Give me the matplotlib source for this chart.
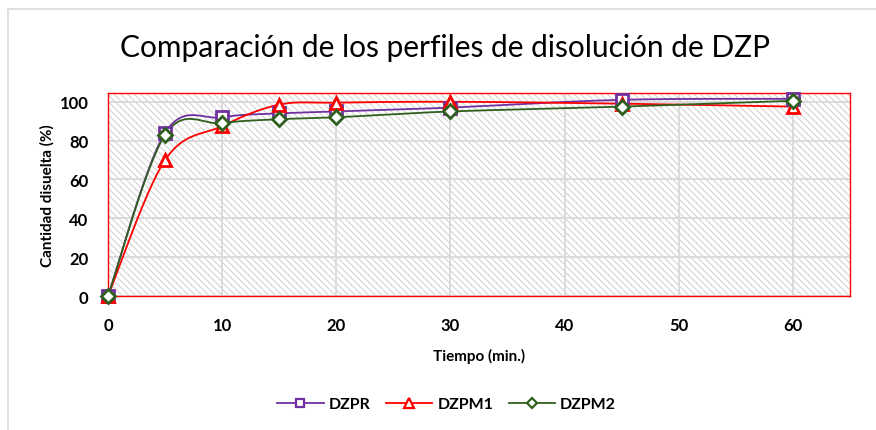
import numpy as np
import matplotlib
matplotlib.use('Agg')
import matplotlib.pyplot as plt
from matplotlib.patches import Rectangle
from matplotlib.lines import Line2D

plt.rcParams['font.family'] = ['Lato', 'DejaVu Sans']
plt.rcParams['hatch.color'] = '#cfcfcf'
plt.rcParams['hatch.linewidth'] = 0.7

# Data
tiempo = [0, 5, 10, 15, 20, 30, 45, 60]
dzpr = [0, 84, 92, 94, 95, 97, 101, 101.5]
dzpm1 = [0, 70, 87.5, 98.5, 99.5, 100, 99, 97.5]
dzpm2 = [0, 83, 89, 91, 92, 95, 97.5, 100.5]

# name, values, colour, marker, marker size
SERIES = [
    ('DZPR', dzpr, '#7030A0', 's', 8.5),
    ('DZPM1', dzpm1, '#FF0000', '^', 9),
    ('DZPM2', dzpm2, '#2F5F1F', 'D', 7),
]


def smooth(x, y, n=30):
    """Catmull-Rom style smoothing like Excel's smoothed line"""
    x = np.asarray(x, float)
    y = np.asarray(y, float)
    px = np.concatenate([[x[0]], x, [x[-1]]])
    py = np.concatenate([[y[0]], y, [y[-1]]])
    xs, ys = [], []
    t = np.linspace(0, 1, n)
    for i in range(1, len(px) - 2):
        p0, p1, p2, p3 = [np.array([px[j], py[j]]) for j in (i - 1, i, i + 1, i + 2)]
        c1 = p1 + (p2 - p0) / 6.0
        c2 = p2 - (p3 - p1) / 6.0
        pts = (((1 - t) ** 3)[:, None] * p1 + (3 * (1 - t) ** 2 * t)[:, None] * c1
               + (3 * (1 - t) * t ** 2)[:, None] * c2 + (t ** 3)[:, None] * p2)
        xs.extend(pts[:, 0])
        ys.extend(pts[:, 1])
    return np.array(xs), np.array(ys)


fig = plt.figure(figsize=(8.76, 4.31), dpi=100)
ax = fig.add_axes([108 / 876, 1 - 297 / 431, (850 - 108) / 876, (297 - 94) / 431])

ax.set_xlim(0, 65)
ax.set_ylim(0, 104.5)

# hatched plot area
ax.set_facecolor('white')
ax.add_patch(Rectangle((0, 0), 1, 1, transform=ax.transAxes, facecolor='white',
                       hatch='\\\\\\\\\\', edgecolor='#cfcfcf', linewidth=0, zorder=0))

ax.set_xticks([0, 10, 20, 30, 40, 50, 60])
ax.set_yticks([0, 20, 40, 60, 80, 100])
ax.grid(True, color='#d9d9d9', linewidth=1.3, zorder=1)
ax.set_axisbelow(True)

for name, vals, color, marker, ms in SERIES:
    sx, sy = smooth(tiempo, vals)
    ax.plot(sx, sy, color=color, linewidth=1.3, zorder=3, clip_on=False)
    ax.plot(tiempo, vals, linestyle='none', marker=marker, markersize=ms,
            markerfacecolor='white', markeredgecolor=color, markeredgewidth=2,
            zorder=4, clip_on=False)

for side in ['top', 'bottom', 'left', 'right']:
    ax.spines[side].set_color('#FF0000')
    ax.spines[side].set_linewidth(1.0)

ax.tick_params(length=0, labelsize=12)
ax.tick_params(axis='x', pad=15)
ax.tick_params(axis='y', pad=14)
for lbl in ax.get_xticklabels() + ax.get_yticklabels():
    lbl.set_fontweight('bold')

ax.set_xlabel('Tiempo (min.)', fontweight='bold', fontsize=11, labelpad=11)
ax.set_ylabel('Cantidad disuelta (%)', fontweight='bold', fontsize=11, labelpad=4)

fig.text(0.508, 0.888, 'Comparación de los perfiles de disolución de DZP',
         ha='center', va='center', fontsize=21.5)

handles = [Line2D([0], [0], color=c, marker=m, markersize=ms * 0.75, markerfacecolor='white',
                  markeredgecolor=c, markeredgewidth=1.6, linewidth=1.3)
           for _, _, c, m, ms in SERIES]
fig.legend(handles, [s[0] for s in SERIES], loc='center', bbox_to_anchor=(0.51, 0.06),
           ncol=3, frameon=False, prop={'weight': 'bold', 'size': 11.5},
           handlelength=2.9, columnspacing=1.0, handletextpad=0.3)

# outer chart border
fig.add_artist(Line2D([8 / 876, 1], [1 - 10 / 431, 1 - 10 / 431], color='#d9d9d9', linewidth=1.2))
fig.add_artist(Line2D([8 / 876, 8 / 876], [0, 1 - 10 / 431], color='#d9d9d9', linewidth=1.2))

fig.savefig('out.png', dpi=100)
